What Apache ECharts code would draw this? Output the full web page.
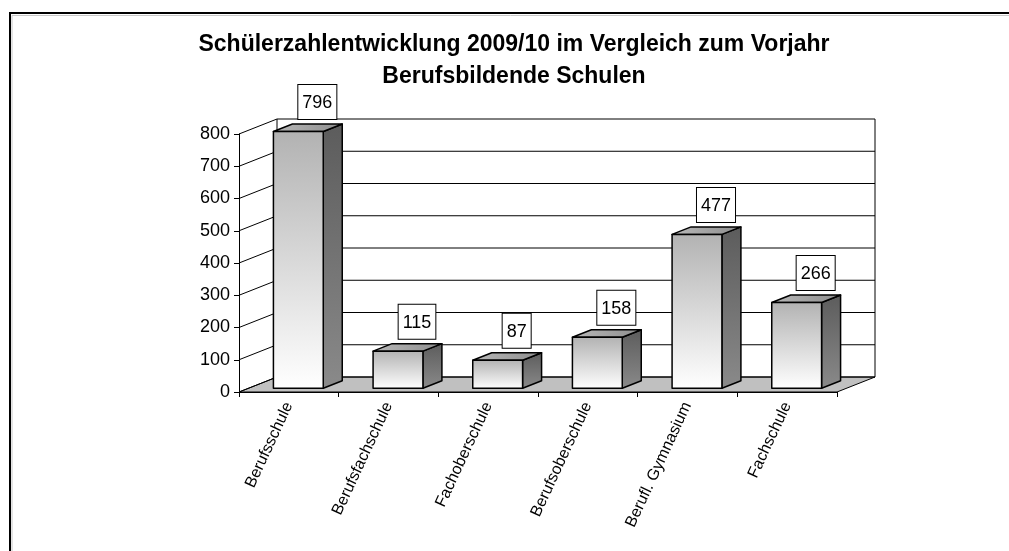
<!DOCTYPE html>
<html>
<head>
<meta charset="utf-8">
<script src="https://cdn.jsdelivr.net/npm/echarts@6/dist/echarts.min.js"></script>
<style>
  html, body { margin: 0; padding: 0; background: #fff; }
  #chart { width: 1009px; height: 551px; }
</style>
</head>
<body>
<div id="chart"></div>
<script>
const categories = ['Berufsschule', 'Berufsfachschule', 'Fachoberschule', 'Berufsoberschule', 'Berufl. Gymnasium', 'Fachschule'];
const values = [796, 115, 87, 158, 477, 266];
const yTicks = [0, 100, 200, 300, 400, 500, 600, 700, 800];

// depth of the 3d box (back wall offset)
const DX = 38;
const DY = -15;
const FONT = '"Liberation Sans", Arial, sans-serif';

const chart = echarts.init(document.getElementById('chart'));

const renderWalls = (params, api) => {
  const cs = params.coordSys;
  const v = api.value(1);
  const y = api.coord([0, v])[1];
  const left = cs.x;
  const right = cs.x + cs.width;
  const line = { stroke: '#000', lineWidth: 1 };
  const children = [];
  if (v === 0) {
    const yTop = cs.y;
    children.push({
      type: 'polygon',
      shape: { points: [[left, y], [right, y], [right + DX, y + DY], [left + DX, y + DY]] },
      style: { fill: '#c0c0c0', stroke: '#000', lineWidth: 1 },
    });
    children.push({
      type: 'line',
      shape: { x1: left + DX, y1: yTop + DY, x2: left + DX, y2: y + DY },
      style: line,
    });
    children.push({
      type: 'line',
      shape: { x1: right + DX, y1: yTop + DY, x2: right + DX, y2: y + DY },
      style: line,
    });
  }
  children.push({
    type: 'line',
    shape: { x1: left, y1: y, x2: left + DX, y2: y + DY },
    style: line,
  });
  children.push({
    type: 'line',
    shape: { x1: left + DX, y1: y + DY, x2: right + DX, y2: y + DY },
    style: line,
  });
  return { type: 'group', children };
};

const renderBar = (params, api) => {
  const idx = api.value(0);
  const v = api.value(1);
  const base = api.coord([idx, 0]);
  const top = api.coord([idx, v]);
  const band = api.size([1, 0])[0];
  const w = band * 0.5;
  const bx = DX / 2;
  const by = DY / 2;
  const fx = base[0] - w / 2 + DX / 4;
  const fy0 = base[1] + DY / 4;
  const fy1 = top[1] + DY / 4;
  const edge = { stroke: '#000', lineWidth: 1.5, lineJoin: 'round' };
  return {
    type: 'group',
    children: [
      {
        type: 'polygon',
        shape: { points: [[fx + w, fy1], [fx + w + bx, fy1 + by], [fx + w + bx, fy0 + by], [fx + w, fy0]] },
        style: Object.assign({
          fill: new echarts.graphic.LinearGradient(0, 0, 0, 1, [
            { offset: 0, color: '#5c5c5c' },
            { offset: 1, color: '#8a8a8a' },
          ]),
        }, edge),
      },
      {
        type: 'polygon',
        shape: { points: [[fx, fy1], [fx + bx, fy1 + by], [fx + w + bx, fy1 + by], [fx + w, fy1]] },
        style: Object.assign({
          fill: new echarts.graphic.LinearGradient(0, 0, 1, 0, [
            { offset: 0, color: '#b8b8b8' },
            { offset: 1, color: '#8e8e8e' },
          ]),
        }, edge),
      },
      {
        type: 'rect',
        shape: { x: fx, y: fy1, width: w, height: fy0 - fy1 },
        style: Object.assign({
          fill: new echarts.graphic.LinearGradient(0, 0, 0, 1, [
            { offset: 0, color: '#b2b2b2' },
            { offset: 1, color: '#ffffff' },
          ]),
        }, edge),
      },
      {
        type: 'text',
        x: fx + w / 2 + bx,
        y: fy1 + by - 5,
        style: {
          text: String(v),
          fontFamily: FONT,
          fontSize: 18,
          fill: '#000',
          align: 'center',
          verticalAlign: 'bottom',
          backgroundColor: '#fff',
          borderColor: '#000',
          borderWidth: 1,
          padding: [9, 4, 7, 4],
        },
      },
    ],
  };
};

chart.setOption({
  animation: false,
  backgroundColor: '#fff',
  title: {
    text: 'Schülerzahlentwicklung 2009/10 im Vergleich zum Vorjahr\nBerufsbildende Schulen',
    left: 509,
    top: 24,
    textAlign: 'center',
    textStyle: {
      fontFamily: FONT,
      fontSize: 23,
      fontWeight: 'bold',
      color: '#000',
      lineHeight: 32,
    },
  },
  graphic: [
    {
      type: 'polyline',
      shape: { points: [[10, 551], [10, 13], [1009, 13]] },
      style: { stroke: '#000', lineWidth: 2, fill: null },
    },
    {
      type: 'polyline',
      shape: { points: [[12, 551], [12, 15.5], [1009, 15.5]] },
      style: { stroke: '#c8c8c8', lineWidth: 1, fill: null },
    },
  ],
  grid: { left: 239, right: 172, top: 134, bottom: 159 },
  xAxis: {
    type: 'category',
    data: categories,
    boundaryGap: true,
    axisLine: { show: true, lineStyle: { color: '#000', width: 1 } },
    axisTick: { show: true, length: 5, lineStyle: { color: '#000' } },
    axisLabel: {
      interval: 0,
      rotate: 65,
      margin: 11,
      fontFamily: FONT,
      fontSize: 16,
      color: '#000',
    },
    splitLine: { show: false },
  },
  yAxis: {
    type: 'value',
    min: 0,
    max: 800,
    interval: 100,
    axisLine: { show: true, lineStyle: { color: '#000', width: 1 } },
    axisTick: { show: true, length: 5, lineStyle: { color: '#000' } },
    axisLabel: { margin: 9, fontFamily: FONT, fontSize: 18, color: '#000' },
    splitLine: { show: false },
  },
  series: [
    {
      name: 'walls',
      type: 'custom',
      clip: false,
      z: 1,
      silent: true,
      encode: { x: 0, y: 1 },
      data: yTicks.map((t) => [0, t]),
      renderItem: renderWalls,
    },
    {
      name: 'Schüler',
      type: 'custom',
      clip: false,
      z: 3,
      encode: { x: 0, y: 1 },
      data: values.map((v, i) => [i, v]),
      renderItem: renderBar,
    },
  ],
});
</script>
</body>
</html>
